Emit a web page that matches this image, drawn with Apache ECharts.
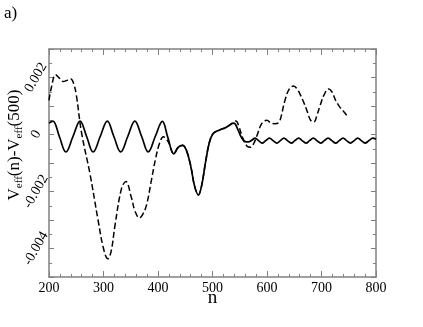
<!DOCTYPE html>
<html><head><meta charset="utf-8">
<script src="https://cdn.jsdelivr.net/npm/echarts@6/dist/echarts.min.js"></script>
<style>html,body{margin:0;padding:0;background:#fff}#c{width:423px;height:327px}</style>
</head><body><div id="c"></div>
<script>
var solidN = [200,207,219,231,244,257,269,281,294,307,319,331.5,344.5,357.5,370,382,395,408,418,429,437,445,452,460,467,474,480,487,494,501,512,525,539,546,553,560,566,572,578,584.5,591,597.5,604.5,611,618,624.5,631,637.5,644.5,651,658,664.5,671.5,678,685,691.5,698.5,705,712,719,726,732.5,739.5,746,753,760,766.5,773,780,787,794,800];
var solidV = [0.00040,0.00047,-0.00007,-0.00061,-0.00007,0.00047,-0.00007,-0.00061,-0.00007,0.00047,-0.00007,-0.00061,-0.00007,0.00047,-0.00007,-0.00061,-0.00007,0.00046,-0.0001,-0.00068,-0.00045,-0.00038,-0.00055,-0.0011,-0.0018,-0.00212,-0.0018,-0.001,-0.0003,0.00003,0.00015,0.00025,0.0004,0.0002,-0.0001,-0.00025,-0.00026,-0.0002,-0.00013,-0.000215,-0.0003,-0.000215,-0.00013,-0.000215,-0.0003,-0.000215,-0.00013,-0.000215,-0.0003,-0.000215,-0.00013,-0.000215,-0.0003,-0.000215,-0.00013,-0.000215,-0.0003,-0.000215,-0.00013,-0.000215,-0.0003,-0.000215,-0.00013,-0.000215,-0.0003,-0.000215,-0.00013,-0.000215,-0.0003,-0.000215,-0.00013,-0.00017];
var dashN = [200,205,212,219,226,233,240,245,250,260,275,290,300,308,314,321,333,341,351,358,366,372,379,387,395,403,410,415,420,429,437,445,452,460,467,474,480,487,494,501,512,525,535,543,548,555,563,570,576,582,588,594,600,607,615,620,624,633,641,649,655,661,668,674,680,686,692,698,705,713,719,726,733,741,749];
var dashV = [0.0012,0.0017,0.0021,0.00198,0.00186,0.0019,0.00195,0.0018,0.0014,0.00003,-0.00136,-0.003,-0.0040,-0.00436,-0.0041,-0.0032,-0.0019,-0.00165,-0.0022,-0.0027,-0.00293,-0.0028,-0.00247,-0.0017,-0.0009,-0.0003,-0.00008,-0.00015,-0.0003,-0.00068,-0.00045,-0.00038,-0.00055,-0.0011,-0.0018,-0.00212,-0.0018,-0.001,-0.0003,0.00003,0.00015,0.00025,0.00038,0.00047,0.0003,-0.0001,-0.0004,-0.00045,-0.0003,-0.00002,0.0003,0.00046,0.0005,0.0004,0.00038,0.0004,0.0005,0.0012,0.0016,0.0017,0.0016,0.0014,0.0011,0.0008,0.0005,0.00044,0.0007,0.00105,0.0014,0.0016,0.0015,0.0012,0.00098,0.0008,0.0006];
var xTicks = ['200','300','400','500','600','700','800'];
var yTickLabels = {'2':'0.002','0':'0','-2':'-0.002','-4':'-0.004'};

function zip(a,b){return a.map(function(v,i){return [v,b[i]];});}
var FONT = 'Liberation Serif';
var GRAY = '#808080';
var chart = echarts.init(document.getElementById('c'));
var tickStyle = {show:true, inside:true, length:6, lineStyle:{color:GRAY,width:1}};
var minorStyle = {show:true, splitNumber:5, length:3, lineStyle:{color:GRAY,width:1}};
chart.setOption({
  animation:false,
  grid:{left:49,right:47,top:49,bottom:50},
  xAxis:[{
    type:'value', min:200, max:800, interval:100, position:'bottom',
    axisLine:{show:true,onZero:false,lineStyle:{color:GRAY,width:1.5}},
    axisTick:tickStyle, minorTick:minorStyle, splitLine:{show:false},
    axisLabel:{color:'#000',fontFamily:FONT,fontSize:14,margin:4,
      formatter:function(v){var s=String(Math.round(v));return xTicks.indexOf(s)>=0?s:'';}},
    name:'n', nameLocation:'middle', nameGap:12, nameMoveOverlap:false,
    nameTextStyle:{color:'#000',fontFamily:FONT,fontSize:19}
  },{
    type:'value', min:200, max:800, interval:100, position:'top',
    axisLine:{show:true,onZero:false,lineStyle:{color:GRAY,width:1.5}},
    axisTick:tickStyle, minorTick:minorStyle, splitLine:{show:false},
    axisLabel:{show:false}
  }],
  yAxis:[{
    type:'value', min:-0.005, max:0.003, interval:0.001, position:'left',
    axisLine:{show:true,onZero:false,lineStyle:{color:GRAY,width:1.5}},
    axisTick:{show:true,inside:true,length:5,lineStyle:{color:GRAY,width:1}},
    minorTick:{show:true,splitNumber:2,length:3,lineStyle:{color:GRAY,width:1}},
    splitLine:{show:false},
    axisLabel:{color:'#000',fontFamily:FONT,fontSize:14,rotate:60,margin:13,align:'center',verticalAlign:'middle',
      formatter:function(v){var k=String(Math.round(v*1000));return yTickLabels[k]||'';}}
  },{
    type:'value', min:-0.005, max:0.003, interval:0.001, position:'right',
    axisLine:{show:true,onZero:false,lineStyle:{color:GRAY,width:1.5}},
    axisTick:{show:true,inside:true,length:5,lineStyle:{color:GRAY,width:1}},
    minorTick:{show:true,splitNumber:2,length:3,lineStyle:{color:GRAY,width:1}},
    splitLine:{show:false}, axisLabel:{show:false}
  }],
  series:[{
    type:'line', data:zip(solidN,solidV), smooth:0.4, showSymbol:false,
    lineStyle:{color:'#000',width:1.7}
  },{
    type:'line', data:zip(dashN,dashV), smooth:0.4, showSymbol:false,
    lineStyle:{color:'#000',width:1.5,type:[6,3]}
  }],
  graphic:[{
    type:'text', left:4, top:5,
    style:{text:'a)', fontFamily:FONT, fontSize:17, fill:'#000'}
  },{
    type:'text', x:15, y:145, rotation:Math.PI/2,
    style:{
      text:'{m|V}{s|eff}{m|(n)-V}{s|eff}{m|(500)}',
      align:'center', verticalAlign:'middle',
      rich:{
        m:{fontFamily:FONT,fontSize:17,fill:'#000'},
        s:{fontFamily:FONT,fontSize:11,fill:'#000',padding:[8,0,0,0]}
      }
    }
  }]
});
</script></body></html>
